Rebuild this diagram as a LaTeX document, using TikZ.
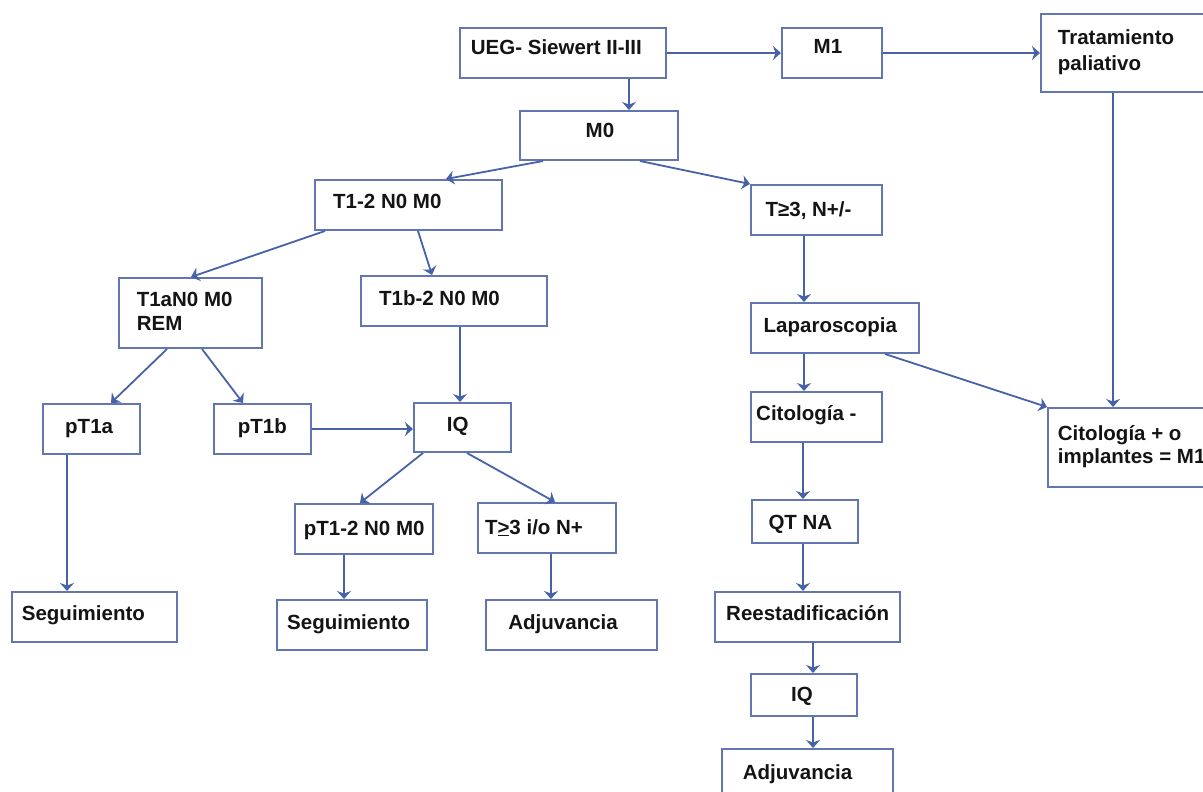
\documentclass[tikz,border=0pt]{standalone}
\usepackage{fontspec}
\setmainfont{Liberation Sans}
\usetikzlibrary{arrows.meta}
\definecolor{boxc}{RGB}{98,118,178}
\definecolor{arrc}{RGB}{72,98,168}
\definecolor{txtc}{RGB}{20,20,20}
\begin{document}
\begin{tikzpicture}[x=1pt,y=-1pt,
  box/.style={draw=boxc,line width=2pt,rectangle,inner sep=0pt},
  txt/.style={anchor=base west,inner sep=0pt,text=txtc,font=\fontsize{20.5}{24}\selectfont\bfseries},
  arr/.style={draw=arrc,line width=1.8pt,-{Stealth[width=14pt,length=8pt,inset=2.5pt]}}]
\useasboundingbox (0,0) rectangle (1203,792);
\clip (0,0) rectangle (1203,792);
\newcommand{\bx}[5]{\node[box,minimum width=#4-#2,minimum height=#5-#3,anchor=north west] (#1) at (#2,#3) {};}
% boxes
\bx{UEG}{459}{27}{665}{77}
\bx{M1}{781}{27}{881}{77}
\bx{Trat}{1040}{13}{1230}{91}
\bx{M0}{519}{110}{677}{159}
\bx{T12}{314}{179}{501}{229}
\bx{Tge}{750}{184}{881}{234}
\bx{T1a}{118}{277}{261}{347}
\bx{T1b}{360}{275}{546}{325}
\bx{Lap}{750}{302}{918}{352}
\bx{pTa}{42}{403}{139}{453}
\bx{pTb}{213}{403}{310}{453}
\bx{IQa}{413}{402}{510}{451}
\bx{CitN}{750}{391}{881}{441}
\bx{CitP}{1047}{407}{1230}{486}
\bx{pT12}{294}{503}{432}{553}
\bx{Tgeb}{477}{502}{615}{552}
\bx{QT}{751}{499}{857}{542}
\bx{SegA}{11}{591}{176}{641}
\bx{SegB}{276}{599}{426}{649}
\bx{AdjA}{485}{599}{656}{649}
\bx{Reest}{714}{591}{899}{641}
\bx{IQb}{750}{673}{856}{715}
\bx{AdjB}{721}{748}{892}{810}
% texts
\node[txt] (tUEG) at (470.7,55) {UEG- Siewert II-III};
\node[txt] (tM1) at (813.5,54) {M1};
\node[txt] (tTrat1) at (1057.7,45) {Tratamiento};
\node[txt] (tTrat2) at (1057.7,70.5) {paliativo};
\node[txt] (tM0) at (585.5,137.7) {M0};
\node[txt] (tT12) at (333,208.3) {T1-2 N0 M0};
\node[txt] (tTge) at (765.4,216.7) {T≥3, N+/-};
\node[txt] (tT1a1) at (136.6,306) {T1aN0 M0};
\node[txt] (tT1a2) at (136.6,330) {REM};
\node[txt] (tT1b) at (378.9,305) {T1b-2 N0 M0};
\node[txt] (tLap) at (763.5,332.7) {Laparoscopia};
\node[txt] (tpTa) at (65,433.3) {pT1a};
\node[txt] (tpTb) at (237.6,433) {pT1b};
\node[txt] (tIQa) at (446.7,431.7) {IQ};
\node[txt] (tCitN) at (756,420.7) {Citología -};
\node[txt] (tCitP1) at (1057.7,440) {Citología + o};
\node[txt] (tCitP2) at (1057.7,463.5) {implantes = M1};
\node[txt] (tpT12) at (303.6,535) {pT1-2 N0 M0};
\node[txt] (tTgeb) at (484.8,534) {T\underline{>}3 i/o N+};
\node[txt] (tQT) at (768.3,529.3) {QT NA};
\node[txt] (tSegA) at (21.7,620) {Seguimiento};
\node[txt] (tSegB) at (287,629.3) {Seguimiento};
\node[txt] (tAdjA) at (508.2,629.3) {Adjuvancia};
\node[txt] (tReest) at (726,620.7) {Reestadificación};
\node[txt] (tIQb) at (791,701.7) {IQ};
\node[txt] (tAdjB) at (742.7,779) {Adjuvancia};
% connectors
\draw[arr] (UEG.east) -- (M1.west);
\draw[arr] (M1.east) -- (Trat.west |- M1.east);
\draw[arr] ([xshift=-38pt]UEG.south east) -- ([xshift=-38pt]UEG.south east |- M0.north);
\draw[arr] ([xshift=24pt]M0.south west) -- ([xshift=132pt]T12.north west);
\draw[arr] ([xshift=-39pt]M0.south east) -- (Tge.north west);
\draw[arr] ([xshift=11pt]T12.south west) -- ([xshift=73pt]T1a.north west);
\draw[arr] ([xshift=104pt]T12.south west) -- ([xshift=72pt]T1b.north west);
\draw[arr] ([xshift=49pt]T1a.south west) -- ([xshift=69pt]pTa.north west);
\draw[arr] ([xshift=84pt]T1a.south west) -- ([xshift=30pt]pTb.north west);
\draw[arr] ([xshift=100pt]T1b.south west) -- ([xshift=100pt]T1b.south west |- IQa.north);
\draw[arr] (pTb.east) -- (IQa.west |- pTb.east);
\draw[arr] ([xshift=10pt]IQa.south west) -- ([xshift=66pt]pT12.north west);
\draw[arr] ([xshift=54pt]IQa.south west) -- ([xshift=78pt]Tgeb.north west);
\draw[arr] ([xshift=25pt]pTa.south west) -- ([xshift=25pt]pTa.south west |- SegA.north);
\draw[arr] ([xshift=50pt]pT12.south west) -- ([xshift=50pt]pT12.south west |- SegB.north);
\draw[arr] ([xshift=74pt]Tgeb.south west) -- ([xshift=74pt]Tgeb.south west |- AdjA.north);
\draw[arr] ([xshift=54pt]Tge.south west) -- ([xshift=54pt]Tge.south west |- Lap.north);
\draw[arr] ([xshift=54pt]Lap.south west) -- ([xshift=54pt]Lap.south west |- CitN.north);
\draw[arr] ([xshift=-35pt]Lap.south east) -- (CitP.north west);
\draw[arr] ([xshift=73pt]Trat.south west) -- ([xshift=73pt]Trat.south west |- CitP.north);
\draw[arr] ([xshift=53pt]CitN.south west) -- ([xshift=53pt]CitN.south west |- QT.north);
\draw[arr] ([xshift=52pt]QT.south west) -- ([xshift=52pt]QT.south west |- Reest.north);
\draw[arr] ([xshift=99pt]Reest.south west) -- ([xshift=99pt]Reest.south west |- IQb.north);
\draw[arr] ([xshift=63pt]IQb.south west) -- ([xshift=63pt]IQb.south west |- AdjB.north);
\end{tikzpicture}
\end{document}
